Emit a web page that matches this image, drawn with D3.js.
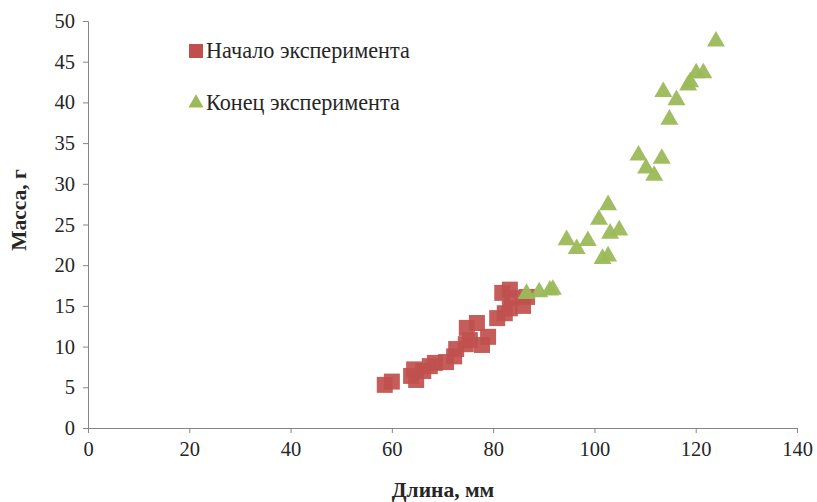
<!DOCTYPE html>
<html><head><meta charset="utf-8">
<script src="https://cdn.jsdelivr.net/npm/d3@7"></script>
<style>body{margin:0;background:#fff}svg{display:block}</style>
</head><body>
<script>
const seriesNames = ["Начало эксперимента", "Конец эксперимента"];
const startLength = [58.6,60.0,63.8,64.8,64.4,66.2,67.5,68.5,70.7,72.7,72.3,74.6,75.4,74.8,76.8,77.8,79.0,80.8,82.3,83.3,85.9,81.8,83.3,83.7,86.7];
const startMass   = [5.3,5.7,6.4,5.9,7.2,7.0,7.6,8.0,8.1,9.7,8.8,10.3,10.8,12.3,12.9,10.2,11.2,13.5,14.1,14.7,15.0,16.6,17.0,16.0,16.1];
const endLength = [86.6,89.1,91.2,91.8,94.5,96.5,98.7,100.9,101.6,102.7,102.7,103.1,104.9,108.7,110.2,111.8,113.3,113.6,114.8,116.2,118.5,118.9,120.1,121.5,124.0];
const endMass   = [16.5,16.7,16.9,17.0,23.1,22.0,23.0,25.6,20.8,21.1,27.4,23.9,24.3,33.5,31.9,31.0,33.1,41.3,37.9,40.3,42.1,42.5,43.6,43.6,47.5];
const xTicks = [0,20,40,60,80,100,120,140];
const yTicks = [0,5,10,15,20,25,30,35,40,45,50];
const xTitle = "Длина, мм", yTitle = "Масса, г";

const W=817,H=502;
const svg=d3.select("body").append("svg").attr("width",W).attr("height",H);
const x=d3.scaleLinear().domain([0,140]).range([88,797]);
const y=d3.scaleLinear().domain([0,50]).range([428,21]);
const font="'Liberation Serif','Times New Roman',serif";
const axisCol="#868686";

const xa=svg.append("g").attr("transform","translate(0,428)")
  .call(d3.axisBottom(x).tickValues(xTicks).tickSize(5).tickPadding(8).tickFormat(d3.format("d")));
const ya=svg.append("g").attr("transform","translate(88,0)")
  .call(d3.axisLeft(y).tickValues(yTicks).tickSize(5).tickPadding(8).tickFormat(d3.format("d")));
[xa,ya].forEach(a=>{
  a.selectAll("path,line").attr("stroke",axisCol).attr("stroke-width",1);
  a.selectAll("text").attr("font-family",font).attr("font-size",20.5).attr("fill","#262626");
});

const red="#C0504D", green="#9BBB59";
const sq=16;
const startData=startLength.map((v,i)=>({x:v,y:startMass[i]}));
const endData=endLength.map((v,i)=>({x:v,y:endMass[i]}));
svg.append("g").selectAll("rect").data(startData).join("rect")
  .attr("x",d=>x(d.x)-sq/2).attr("y",d=>y(d.y)-sq/2).attr("width",sq).attr("height",sq)
  .attr("fill",red).attr("fill-opacity",0.92);
const tri=d3.symbol().type(d3.symbolTriangle).size(140);
svg.append("g").selectAll("path").data(endData).join("path")
  .attr("d",tri).attr("transform",d=>`translate(${x(d.x)},${y(d.y)})`)
  .attr("fill",green).attr("fill-opacity",0.95);

// legend
const lg=svg.append("g");
lg.append("rect").attr("x",189).attr("y",44).attr("width",14).attr("height",14).attr("fill",red);
lg.append("path").attr("d",d3.symbol().type(d3.symbolTriangle).size(100)).attr("transform","translate(196,103)").attr("fill",green);
lg.append("text").attr("x",206).attr("y",58).text(seriesNames[0]).attr("font-family",font).attr("font-size",22.2).attr("fill","#262626");
lg.append("text").attr("x",206).attr("y",110).text(seriesNames[1]).attr("font-family",font).attr("font-size",22.2).attr("fill","#262626");

svg.append("text").attr("x",443).attr("y",497).attr("text-anchor","middle").text(xTitle)
  .attr("font-family",font).attr("font-size",21.5).attr("font-weight","bold").attr("fill","#262626");
svg.append("text").attr("transform","translate(26,210) rotate(-90)").attr("text-anchor","middle").text(yTitle)
  .attr("font-family",font).attr("font-size",21.5).attr("font-weight","bold").attr("fill","#262626");
</script>
</body></html>
